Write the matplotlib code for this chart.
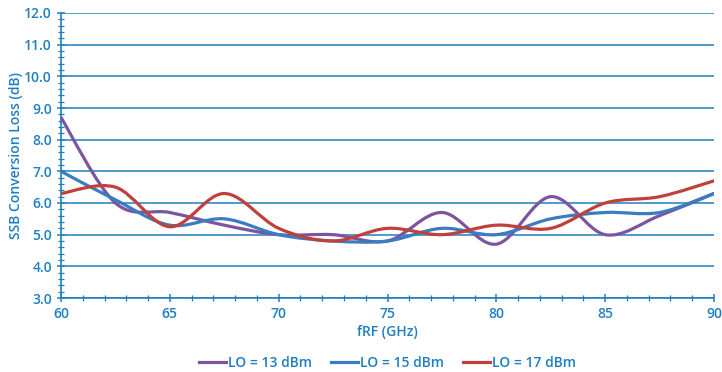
import matplotlib
matplotlib.use("Agg")
import matplotlib.pyplot as plt
from matplotlib.path import Path
from matplotlib.patches import PathPatch
from matplotlib.lines import Line2D
from matplotlib.ticker import MultipleLocator, FormatStrFormatter

plt.rcParams['font.family'] = ['Open Sans', 'DejaVu Sans']

freq_ghz = [60, 62.5, 65, 67.5, 70, 72.5, 75, 77.5, 80, 82.5, 85, 87.5, 90]
lo_13 = [8.7, 6.0, 5.7, 5.3, 5.0, 5.0, 4.8, 5.7, 4.7, 6.2, 5.0, 5.6, 6.3]
lo_15 = [7.0, 6.1, 5.3, 5.5, 5.0, 4.8, 4.8, 5.2, 5.0, 5.5, 5.7, 5.7, 6.3]
lo_17 = [6.3, 6.5, 5.25, 6.3, 5.2, 4.8, 5.2, 5.0, 5.3, 5.2, 6.0, 6.2, 6.7]
series_labels = ["LO = 13 dBm", "LO = 15 dBm", "LO = 17 dBm"]
series_colors = ["#7b559f", "#3a7cc0", "#c0403b"]

text_color = "#1f7fc0"
grid_color = "#1f7fc0"


def smooth_path(xs, ys):
    """Catmull-Rom style smoothed path made of cubic Bezier segments."""
    pts = list(zip(xs, ys))
    n = len(pts)
    verts = [pts[0]]
    codes = [Path.MOVETO]
    for i in range(n - 1):
        p0 = pts[i - 1] if i > 0 else pts[i]
        p1 = pts[i]
        p2 = pts[i + 1]
        p3 = pts[i + 2] if i + 2 < n else pts[i + 1]
        c1 = (p1[0] + (p2[0] - p0[0]) / 6, p1[1] + (p2[1] - p0[1]) / 6)
        c2 = (p2[0] - (p3[0] - p1[0]) / 6, p2[1] - (p3[1] - p1[1]) / 6)
        verts += [c1, c2, p2]
        codes += [Path.CURVE4] * 3
    return Path(verts, codes)


fig = plt.figure(figsize=(7.22, 3.72), dpi=100)
ax = fig.add_axes([61 / 722, 1 - 298 / 372, (714 - 61) / 722, (298 - 13) / 372])

ax.set_xlim(60, 90)
ax.set_ylim(3.0, 12.0)

ax.yaxis.set_major_locator(MultipleLocator(1.0))
ax.yaxis.set_minor_locator(MultipleLocator(0.2))
ax.yaxis.set_major_formatter(FormatStrFormatter('%.1f'))
ax.xaxis.set_major_locator(MultipleLocator(5))
ax.xaxis.set_minor_locator(MultipleLocator(1))

ax.grid(axis='y', which='major', color=grid_color, linewidth=1.1, zorder=1)
for side in ['top', 'right']:
    ax.spines[side].set_visible(False)
for side in ['left', 'bottom']:
    ax.spines[side].set_color(grid_color)
    ax.spines[side].set_linewidth(1.2)

ax.tick_params(axis='both', which='both', colors=grid_color, direction='inout')
ax.tick_params(axis='both', which='major', length=6, width=1.1,
               labelsize=10, labelcolor=text_color)
ax.tick_params(axis='both', which='minor', length=4, width=0.9)
for lbl in ax.get_xticklabels() + ax.get_yticklabels():
    lbl.set_fontweight('semibold')

handles = []
for ys, color, label in zip([lo_13, lo_15, lo_17], series_colors, series_labels):
    patch = PathPatch(smooth_path(freq_ghz, ys), facecolor='none', edgecolor=color,
                      linewidth=2.3, capstyle='round', joinstyle='round', zorder=3)
    ax.add_patch(patch)
    handles.append(Line2D([], [], color=color, linewidth=2.3, label=label))

ax.set_xlabel("fRF (GHz)", color=text_color, fontsize=10, fontweight='semibold', labelpad=3)
ax.set_ylabel("SSB Conversion Loss (dB)", color=text_color, fontsize=10,
              fontweight='semibold', labelpad=1)

leg = fig.legend(handles=handles, loc='center',
                 bbox_to_anchor=(387.5 / 722, 1 - 363 / 372),
                 ncol=3, frameon=False, fontsize=10, handlelength=1.95,
                 handletextpad=0.1, columnspacing=1.4)
for t in leg.get_texts():
    t.set_color(text_color)
    t.set_fontweight('semibold')

fig.savefig("out.png", dpi=100)
